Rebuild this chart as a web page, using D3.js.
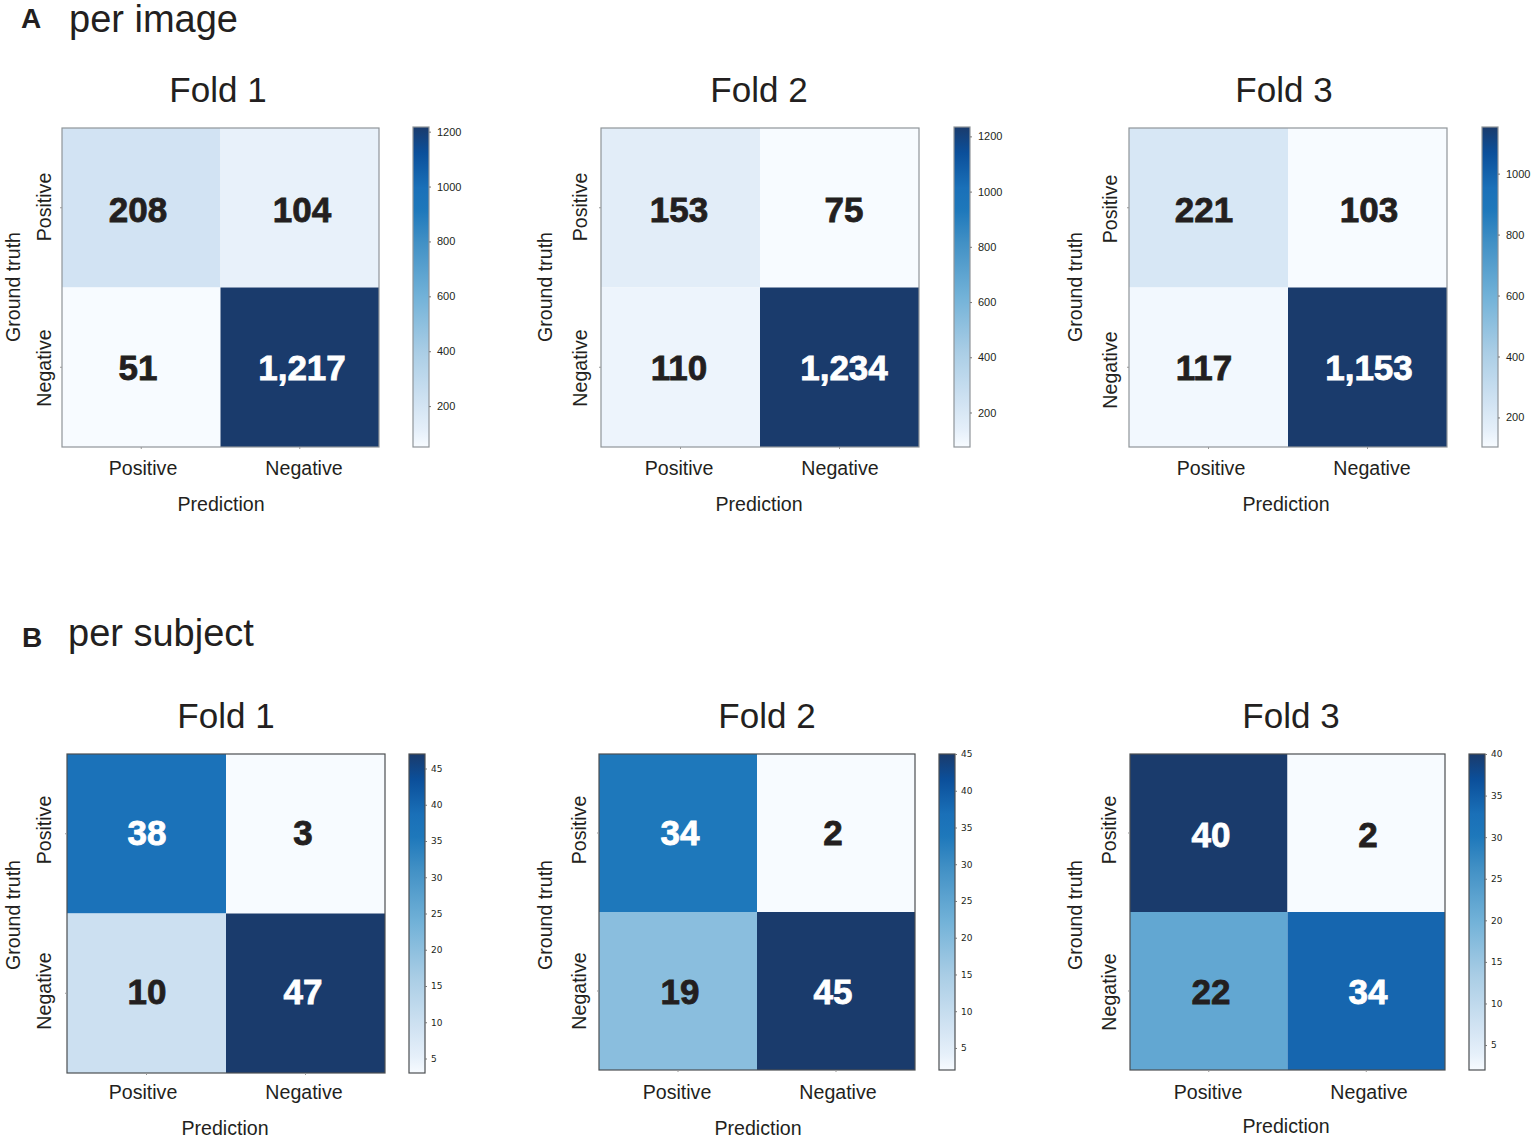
<!DOCTYPE html>
<html>
<head>
<meta charset="utf-8">
<script src="https://cdn.jsdelivr.net/npm/d3@7"></script>
<style>
  html, body { margin: 0; padding: 0; background: #fff; }
  svg { display: block; }
  text { font-family: "Liberation Sans", Arial, sans-serif; fill: #231f20; }
</style>
</head>
<body>
<div id="chart"></div>
<script>
// chart values
var classes = ["Positive", "Negative"];
var foldNames = ["Fold 1", "Fold 2", "Fold 3"];

// rows are ground truth, columns are prediction
var perImageCounts = [
  [[208, 104], [51, 1217]],
  [[153, 75], [110, 1234]],
  [[221, 103], [117, 1153]]
];
var perSubjectCounts = [
  [[38, 3], [10, 47]],
  [[34, 2], [19, 45]],
  [[40, 2], [22, 34]]
];

var perImageTicks = [
  [200, 400, 600, 800, 1000, 1200],
  [200, 400, 600, 800, 1000, 1200],
  [200, 400, 600, 800, 1000]
];
var perSubjectTicks = [
  [5, 10, 15, 20, 25, 30, 35, 40, 45],
  [5, 10, 15, 20, 25, 30, 35, 40, 45],
  [5, 10, 15, 20, 25, 30, 35, 40]
];

var width = 1535, height = 1140;

// the colormap of the figure
var colorStops = [
  [0, "#f7fbff"], [0.05, "#e6f0fa"], [0.13, "#d3e4f3"], [0.3, "#a9cde5"],
  [0.47, "#72b2d8"], [0.64, "#4190c5"], [0.74, "#1e78bb"], [0.81, "#1a70b8"], [0.92, "#0b4f9a"], [1, "#1a3b6c"]
];
var colorMap = d3.scaleLinear()
  .domain(colorStops.map(function(d) { return d[0]; }))
  .range(colorStops.map(function(d) { return d[1]; }));

// page layout of each panel
var imageLayout = {
  border: "#8f9599", borderWidth: 1.2, tickFont: "Liberation Sans", tickSize: 11, tickPad: 8,
  panels: [
    { x: [62, 379], y: [128, 447], cb: [413, 429], cbY: [127, 447], title: 218, titleY: 102,
      xLab: [143, 304], xLabY: 475, pred: 221, predY: 511, yLabX: 51, yLab: [207, 368], gtX: 20, gtY: 287,
      numX: [138, 302], numY: [209, 367] },
    { x: [601, 919], y: [128, 447], cb: [954, 970], cbY: [127, 447], title: 759, titleY: 102,
      xLab: [679, 840], xLabY: 475, pred: 759, predY: 511, yLabX: 587, yLab: [207, 368], gtX: 552, gtY: 287,
      numX: [679, 844], numY: [209, 367] },
    { x: [1129, 1447], y: [128, 447], cb: [1482, 1498], cbY: [127, 447], title: 1284, titleY: 102,
      xLab: [1211, 1372], xLabY: 475, pred: 1286, predY: 511, yLabX: 1117, yLab: [209, 370], gtX: 1082, gtY: 287,
      numX: [1204, 1369], numY: [209, 367] }
  ]
};
var subjectLayout = {
  border: "#4b4f52", borderWidth: 1.2, tickFont: "DejaVu Sans", tickSize: 9, tickPad: 6,
  panels: [
    { x: [67, 385], y: [754, 1073], cb: [409, 425], cbY: [754, 1073], title: 226, titleY: 728,
      xLab: [143, 304], xLabY: 1099, pred: 225, predY: 1135, yLabX: 51, yLab: [830, 991], gtX: 20, gtY: 915,
      numX: [147, 303], numY: [832, 991] },
    { x: [599, 915], y: [754, 1070], cb: [939, 955], cbY: [754, 1070], title: 767, titleY: 728,
      xLab: [677, 838], xLabY: 1099, pred: 758, predY: 1135, yLabX: 586, yLab: [830, 991], gtX: 552, gtY: 915,
      numX: [680, 833], numY: [832, 991] },
    { x: [1130, 1445], y: [754, 1070], cb: [1469, 1485], cbY: [754, 1070], title: 1291, titleY: 728,
      xLab: [1208, 1369], xLabY: 1099, pred: 1286, predY: 1133, yLabX: 1116, yLab: [830, 992], gtX: 1082, gtY: 915,
      numX: [1211, 1368], numY: [834, 991] }
  ]
};

var svg = d3.select("#chart")
  .append("svg")
  .attr("width", width)
  .attr("height", height);

var defs = svg.append("defs");

// one confusion matrix with its colorbar
function drawPanel(counts, ticks, p, style, id) {
  var g = svg.append("g");
  var flat = d3.merge(counts);
  var vmin = d3.min(flat), vmax = d3.max(flat);

  var xScale = d3.scaleBand().domain(classes).range(p.x);
  var yScale = d3.scaleBand().domain(classes).range(p.y);
  var norm = d3.scaleLinear().domain([vmin, vmax]).range([0, 1]);

  var cells = [];
  classes.forEach(function(truth, r) {
    classes.forEach(function(pred, c) {
      cells.push({ truth: truth, pred: pred, r: r, c: c, value: counts[r][c] });
    });
  });

  g.selectAll("rect.cell")
    .data(cells)
    .enter()
    .append("rect")
    .attr("class", "cell")
    .attr("x", function(d) { return xScale(d.pred); })
    .attr("y", function(d) { return yScale(d.truth); })
    .attr("width", xScale.bandwidth())
    .attr("height", yScale.bandwidth())
    .attr("fill", function(d) { return colorMap(norm(d.value)); });

  // frame
  g.append("rect")
    .attr("x", p.x[0])
    .attr("y", p.y[0])
    .attr("width", p.x[1] - p.x[0])
    .attr("height", p.y[1] - p.y[0])
    .attr("fill", "none")
    .attr("stroke", style.border)
    .attr("stroke-width", style.borderWidth);

  // small ticks on the matrix axes, labels are placed by hand below
  var axisX = g.append("g")
    .attr("transform", "translate(0," + p.y[1] + ")")
    .call(d3.axisBottom(xScale).tickSize(2).tickFormat(""));
  var axisY = g.append("g")
    .attr("transform", "translate(" + p.x[0] + ",0)")
    .call(d3.axisLeft(yScale).tickSize(2).tickFormat(""));
  [axisX, axisY].forEach(function(a) {
    a.select(".domain").remove();
    a.selectAll("line").attr("stroke", "#999");
  });

  // cell counts
  g.selectAll("text.count")
    .data(cells)
    .enter()
    .append("text")
    .attr("class", "count")
    .attr("x", function(d) { return p.numX[d.c]; })
    .attr("y", function(d) { return p.numY[d.r]; })
    .attr("text-anchor", "middle")
    .attr("dominant-baseline", "central")
    .style("font-size", "35px")
    .style("font-weight", "bold")
    .style("fill", function(d) { return norm(d.value) > 0.6 ? "#ffffff" : "#231f20"; })
    .style("stroke", function(d) { return norm(d.value) > 0.6 ? "#ffffff" : "#231f20"; })
    .style("stroke-width", "0.8px")
    .text(function(d) { return d3.format(",")(d.value); });

  // titles and axis labels
  g.append("text")
    .attr("x", p.title)
    .attr("y", p.titleY)
    .attr("text-anchor", "middle")
    .style("font-size", "35px")
    .text(foldNames[id % 3]);

  classes.forEach(function(name, i) {
    g.append("text")
      .attr("x", p.xLab[i])
      .attr("y", p.xLabY)
      .attr("text-anchor", "middle")
      .style("font-size", "19.6px")
      .text(name);
    g.append("text")
      .attr("transform", "translate(" + p.yLabX + "," + p.yLab[i] + ")rotate(-90)")
      .attr("text-anchor", "middle")
      .style("font-size", "19.6px")
      .text(name);
  });

  g.append("text")
    .attr("x", p.pred)
    .attr("y", p.predY)
    .attr("text-anchor", "middle")
    .style("font-size", "19.6px")
    .text("Prediction");

  g.append("text")
    .attr("transform", "translate(" + p.gtX + "," + p.gtY + ")rotate(-90)")
    .attr("text-anchor", "middle")
    .style("font-size", "19.6px")
    .text("Ground truth");

  // colorbar
  var gradId = "cb" + id;
  var grad = defs.append("linearGradient")
    .attr("id", gradId)
    .attr("x1", 0).attr("y1", 1)
    .attr("x2", 0).attr("y2", 0);
  grad.selectAll("stop")
    .data(colorStops)
    .enter()
    .append("stop")
    .attr("offset", function(d) { return d[0]; })
    .attr("stop-color", function(d) { return d[1]; });

  g.append("rect")
    .attr("x", p.cb[0])
    .attr("y", p.cbY[0])
    .attr("width", p.cb[1] - p.cb[0])
    .attr("height", p.cbY[1] - p.cbY[0])
    .attr("fill", "url(#" + gradId + ")")
    .attr("stroke", style.border)
    .attr("stroke-width", style.borderWidth);

  var cbScale = d3.scaleLinear().domain([vmin, vmax]).range([p.cbY[1], p.cbY[0]]);
  var cbAxis = g.append("g")
    .attr("transform", "translate(" + p.cb[1] + ",0)")
    .call(d3.axisRight(cbScale).tickValues(ticks).tickSize(2).tickPadding(style.tickPad - 2).tickFormat(d3.format("d")));
  cbAxis.select(".domain").remove();
  cbAxis.selectAll("line").attr("stroke", "#777");
  cbAxis.selectAll("text")
    .style("font-family", "'" + style.tickFont + "', sans-serif")
    .style("font-size", style.tickSize + "px");
}

perImageCounts.forEach(function(counts, i) {
  drawPanel(counts, perImageTicks[i], imageLayout.panels[i], imageLayout, i);
});
perSubjectCounts.forEach(function(counts, i) {
  drawPanel(counts, perSubjectTicks[i], subjectLayout.panels[i], subjectLayout, i + 3);
});

// section letters and headings
svg.append("text").attr("x", 21).attr("y", 28)
  .style("font-size", "28px").style("font-weight", "bold").text("A");
svg.append("text").attr("x", 69).attr("y", 32)
  .style("font-size", "38px").text("per image");
svg.append("text").attr("x", 22).attr("y", 647)
  .style("font-size", "28px").style("font-weight", "bold").text("B");
svg.append("text").attr("x", 68).attr("y", 646)
  .style("font-size", "38px").text("per subject");
</script>
</body>
</html>
